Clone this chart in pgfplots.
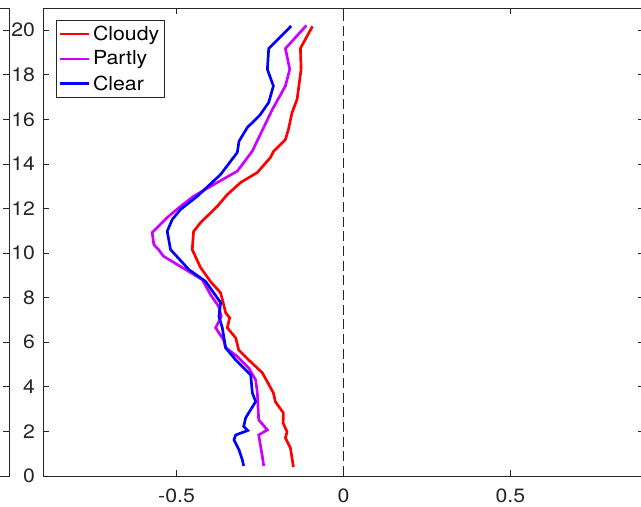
\documentclass[border=0pt]{standalone}
\usepackage{fontspec}
\setmainfont[FakeStretch=1.1]{TeX Gyre Heros}
\usepackage{pgfplots}
\pgfplotsset{compat=1.18}
\definecolor{axgray}{rgb}{0.15,0.15,0.15}
\definecolor{mpurple}{rgb}{0.8,0,1}
\begin{document}
\begin{tikzpicture}
% neighbouring panel (only its right edge is visible)
\begin{axis}[
 at={(-25.5pt,0pt)}, anchor=south east,
 scale only axis, width=150pt, height=351pt,
 xmin=0,xmax=1,ymin=0,ymax=21,
 xtick=\empty, ytick={0,2,...,20}, yticklabels={},
 tick align=inside, major tick length=4.5pt,
 axis line style={axgray, line width=0.6pt}, tick style={axgray, line width=0.6pt},
]
\end{axis}
\begin{axis}[
 at={(0pt,0pt)}, anchor=south west,
 scale only axis, width=450.75pt, height=351pt,
 xmin=-0.9,xmax=0.9,ymin=0,ymax=21,
 xtick={-0.5,0,0.5}, ytick={0,2,...,20},
 tick align=inside, major tick length=4.5pt,
 axis line style={axgray, line width=0.6pt}, tick style={axgray, line width=0.6pt},
 /pgf/number format/assume math mode=true,
 ticklabel style={font=\fontsize{14.5}{16}\selectfont, text=axgray},
 xticklabel style={yshift=-6pt},
 yticklabel style={xshift=-2.5pt},
 legend style={at={(0.0211,0.9744)}, anchor=north west, draw=axgray, line width=0.6pt,
   font=\fontsize{14.5}{16}\selectfont, inner sep=2pt, row sep=2.5pt},
 legend cell align=left,
 legend image code/.code={\draw[#1, line width=2pt] (0pt,0pt) -- (21.75pt,0pt);},
]
\addplot[red, line width=2pt] coordinates {
(-0.150,0.40) (-0.159,1.26) (-0.174,1.71) (-0.169,1.98) (-0.181,2.38) (-0.180,2.83)
(-0.204,3.33) (-0.210,3.73) (-0.243,4.63) (-0.284,5.21) (-0.314,5.66) (-0.323,6.20)
(-0.348,6.65) (-0.341,7.10) (-0.353,7.33) (-0.368,8.22) (-0.398,8.72) (-0.428,9.35)
(-0.453,10.16) (-0.449,10.97) (-0.428,11.37) (-0.378,12.10) (-0.348,12.63) (-0.308,13.17)
(-0.258,13.62) (-0.219,14.29) (-0.210,14.56) (-0.174,15.10) (-0.165,15.55) (-0.154,16.31)
(-0.139,16.90) (-0.127,18.25) (-0.129,19.19) (-0.093,20.18)
};
\addlegendentry{Cloudy}
\addplot[mpurple, line width=2pt] coordinates {
(-0.239,0.45) (-0.243,0.87) (-0.254,1.84) (-0.228,2.07) (-0.254,2.52) (-0.258,3.73)
(-0.263,4.31) (-0.284,4.85) (-0.320,5.39) (-0.353,5.75) (-0.359,6.11) (-0.383,6.65)
(-0.366,7.16) (-0.374,7.61) (-0.398,8.13) (-0.423,8.81) (-0.539,9.86) (-0.554,10.16)
(-0.568,10.38) (-0.573,10.92) (-0.528,11.60) (-0.488,12.10) (-0.449,12.55) (-0.378,13.17)
(-0.318,13.68) (-0.273,14.58) (-0.249,15.33) (-0.213,16.45) (-0.174,17.50) (-0.161,18.25)
(-0.174,19.18) (-0.111,20.22)
};
\addlegendentry{Partly}
\addplot[blue, line width=2pt] coordinates {
(-0.299,0.45) (-0.303,0.72) (-0.313,1.17) (-0.328,1.62) (-0.323,1.84) (-0.287,2.04)
(-0.299,2.22) (-0.293,2.61) (-0.263,3.34) (-0.273,3.73) (-0.278,4.54) (-0.323,5.21)
(-0.353,5.75) (-0.363,6.65) (-0.373,7.16) (-0.368,7.78) (-0.413,8.73) (-0.463,9.26)
(-0.518,10.16) (-0.528,10.98) (-0.513,11.51) (-0.488,11.96) (-0.438,12.55) (-0.368,13.53)
(-0.318,14.52) (-0.313,15.02) (-0.288,15.64) (-0.251,16.18) (-0.224,16.76) (-0.210,17.50)
(-0.228,18.25) (-0.224,19.18) (-0.157,20.19)
};
\addlegendentry{Clear}
\addplot[black!85, line width=1.4pt, dash pattern=on 7.5pt off 3.5pt, forget plot] coordinates {(0,0) (0,21)};
\end{axis}
\pgfresetboundingbox
\useasboundingbox (-32.25pt,-22.5pt) rectangle (448.5pt,357pt);
\end{tikzpicture}
\end{document}
